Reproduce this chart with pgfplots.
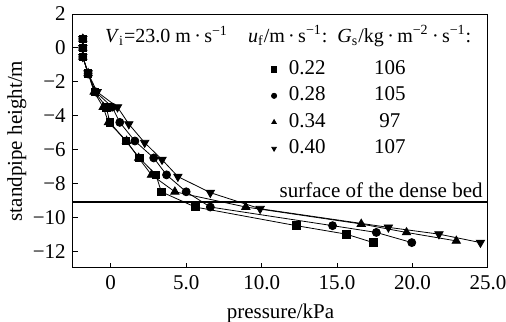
\documentclass[border=0pt]{standalone}
\usepackage{fontspec}
\setmainfont{Liberation Serif}
\usepackage{pgfplots}
\pgfplotsset{compat=1.18}
\begin{document}
\fontsize{10.5pt}{12.6pt}\selectfont
\begin{tikzpicture}
\begin{axis}[
  name=ax,
  scale only axis,
  width=207.5pt, height=127pt,
  xmin=-2.5, xmax=25, ymin=-13, ymax=2,
  xtick={0,5,10,15,20,25},
  xticklabels={0,5.0,10.0,15.0,20.0,25.0},
  ytick={-12,-10,-8,-6,-4,-2,0,2},
  yticklabels={−12,−10,−8,−6,−4,−2,0,2},
  tick align=inside, tick pos=left,
  major tick length=2.5pt,
  axis line style={line width=0.5pt},
  tick style={line width=0.5pt, black},
  /pgf/number format/assume math mode=true,
  xlabel={pressure/kPa},
  ylabel={standpipe height/m},
  xlabel style={yshift=0pt},
  ylabel style={yshift=-4pt},
  every axis plot/.append style={black, line width=0.4pt},
  legend style={draw=none, fill=none, at={(axis cs:10.6,-0.6)}, anchor=north west,
    inner sep=0pt, row sep=2.2pt,
    nodes={inner sep=1pt, anchor=west, text height=7pt, text depth=2pt}},
  legend cell align=left,
  legend image code/.code={\path (-1.3pt,0pt) (6.2pt,0pt); \draw[#1, mark size=1.3pt] plot[only marks] coordinates {(0pt,0pt)};},
]
\addplot[mark=square*, mark size=1.9pt] coordinates {
(-1.85,0.53) (-1.85,0) (-1.85,-0.53) (-1.5,-1.5) (-1.05,-2.6) (-0.3,-3.5) (-0.05,-4.4) (1.0,-5.5) (1.9,-6.5) (3.0,-7.5) (3.35,-8.5) (5.6,-9.4) (12.3,-10.5) (15.6,-11.0) (17.4,-11.5)};
\addlegendentry{\makebox[43pt][l]{0.22}\makebox[15pt]{106}}
\addplot[mark=*, mark size=2pt] coordinates {
(-1.85,0.53) (-1.85,0) (-1.85,-0.53) (-1.5,-1.5) (-1.0,-2.6) (0.1,-3.5) (0.6,-4.4) (1.6,-5.5) (2.85,-6.5) (3.7,-7.5) (5.0,-8.5) (6.6,-9.4) (14.7,-10.5) (17.6,-10.9) (19.95,-11.5)};
\addlegendentry{\makebox[43pt][l]{0.28}\makebox[15pt]{105}}
\addplot[mark=triangle*, mark size=2.4pt] coordinates {
(-1.85,0.53) (-1.85,0) (-1.85,-0.53) (-1.5,-1.5) (-1.1,-2.6) (-0.5,-3.5) (-0.15,-4.4) (1.05,-5.5) (1.85,-6.5) (2.7,-7.5) (4.25,-8.5) (8.95,-9.4) (16.6,-10.4) (19.6,-10.9) (22.9,-11.4)};
\addlegendentry{\makebox[43pt][l]{0.34}\makebox[15pt]{97}}
\addplot[mark=triangle*, mark size=2.4pt, mark options={rotate=180}] coordinates {
(-1.85,0.53) (-1.85,0) (-1.85,-0.53) (-1.5,-1.5) (-0.9,-2.6) (0.45,-3.5) (1.2,-4.5) (2.25,-5.6) (3.4,-6.6) (4.45,-7.6) (6.6,-8.55) (9.9,-9.5) (18.4,-10.6) (21.75,-11.0) (24.5,-11.5)};
\addlegendentry{\makebox[43pt][l]{0.40}\makebox[15pt]{107}}
\addplot[black, line width=0.6pt, forget plot] coordinates {(-2.5,-9.1) (25,-9.1)};
\node[anchor=base east, inner sep=0pt] at (axis cs:24.67,-8.82) {surface of the dense bed};
\node[anchor=west, inner sep=0pt, font=\fontsize{10pt}{12pt}\selectfont] at (axis cs:-0.4,0.7) {\textit{V}\textsubscript{i}=23.0 m\,·\,s\textsuperscript{−1}};
\node[anchor=west, inner sep=0pt, font=\fontsize{10pt}{12pt}\selectfont] at (axis cs:9.08,0.7) {\textit{u}\textsubscript{f}/m\,·\,s\textsuperscript{−1}:\ \ \textit{G}\textsubscript{s}/kg\,·\,m\textsuperscript{−2}\,·\,s\textsuperscript{−1}:};
\end{axis}
\pgfresetboundingbox
\path ([shift={(-36.5pt,-27pt)}]ax.south west) rectangle ([shift={(9pt,7pt)}]ax.north east);
\end{tikzpicture}
\end{document}
